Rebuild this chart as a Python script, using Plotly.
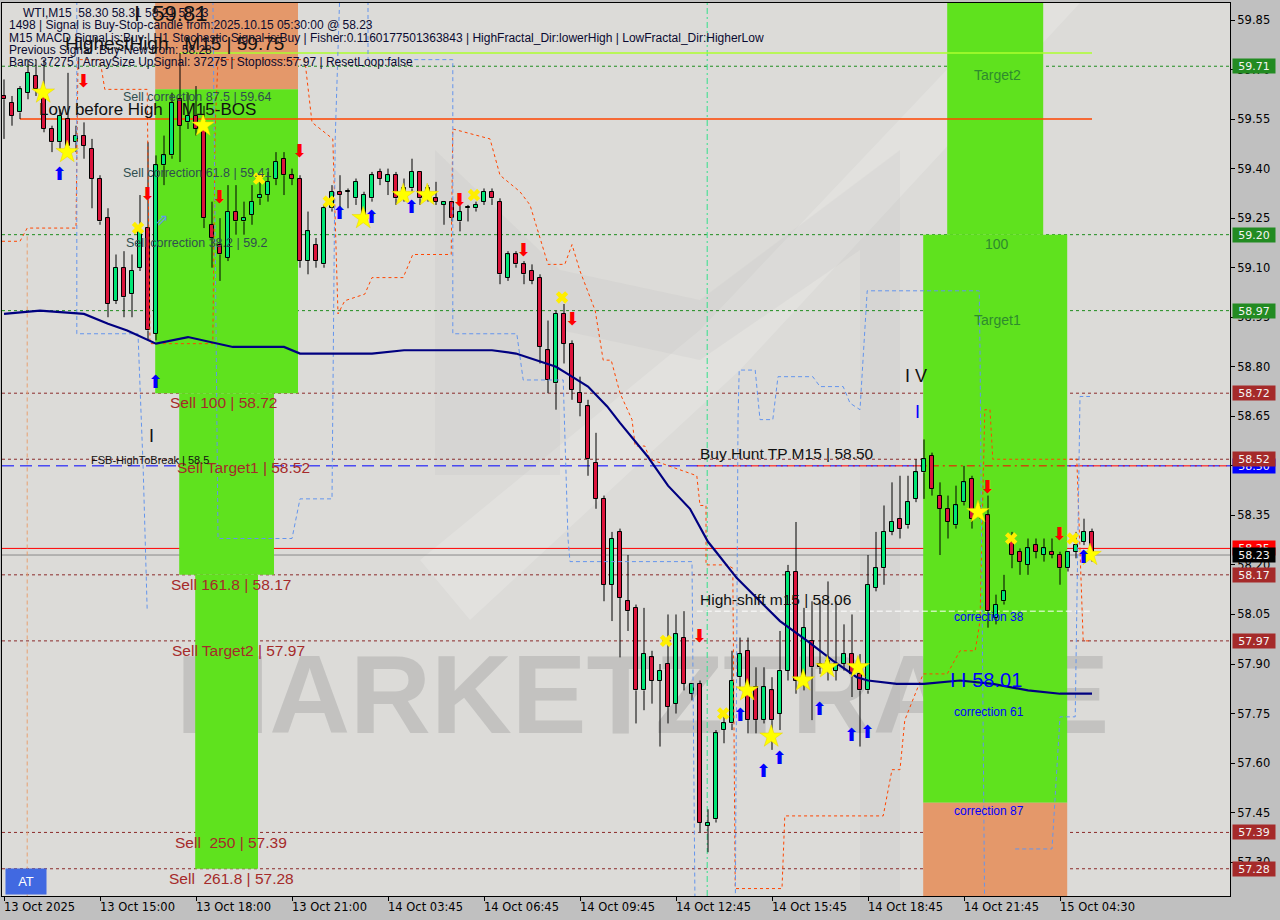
import plotly.graph_objects as go

# ---------------- DATA (M15 bars, index 0 = 13 Oct 12:00) ----------------
opens = [59.62, 59.60, 59.57, 59.63, 59.68, 59.63, 59.52, 59.48, 59.55, 59.48,
         59.50, 59.46, 59.37, 59.25, 59.00, 59.10, 59.02, 59.10, 59.22, 58.90,
         59.41, 59.44, 59.61, 59.54, 59.56, 59.54, 59.23, 59.17, 59.13, 59.27,
         59.24, 59.26, 59.31, 59.32, 59.37, 59.43, 59.38, 59.37, 59.12, 59.17,
         59.11, 59.28, 59.33, 59.33, 59.31, 59.25, 59.31, 59.39, 59.36, 59.38,
         59.32, 59.34, 59.39, 59.34, 59.31, 59.29, 59.30, 59.24, 59.28, 59.28,
         59.30, 59.33, 59.30, 59.07, 59.14, 59.11, 59.09, 59.07, 58.85, 58.75,
         58.96, 58.87, 58.72, 58.68, 58.51, 58.40, 58.14, 58.30, 58.09, 58.07,
         57.82, 57.92, 57.85, 57.90, 57.78, 57.98, 57.81, 57.84, 57.41, 57.43,
         57.70, 57.72, 57.86, 57.94, 57.83, 57.73, 57.82, 57.75, 57.88, 58.18,
         57.85, 57.97, 57.90, 57.88, 57.88, 57.90, 57.93, 57.87, 57.82, 58.13,
         58.19, 58.30, 58.34, 58.32, 58.40, 58.48, 58.53, 58.41, 58.37, 58.32,
         58.39, 58.46, 58.35, 58.35, 58.04, 58.09, 58.27, 58.24, 58.20, 58.26,
         58.23, 58.24, 58.23, 58.19, 58.24, 58.27, 58.30]
highs = [59.67, 59.62, 59.65, 59.73, 59.73, 59.73, 59.53, 59.58, 59.69, 59.53,
         59.54, 59.49, 59.38, 59.28, 59.14, 59.15, 59.14, 59.32, 59.48, 59.44,
         59.50, 59.63, 59.75, 59.63, 59.65, 59.59, 59.30, 59.25, 59.35, 59.35,
         59.30, 59.35, 59.38, 59.39, 59.45, 59.45, 59.40, 59.38, 59.27, 59.19,
         59.29, 59.35, 59.38, 59.34, 59.37, 59.33, 59.39, 59.40, 59.40, 59.39,
         59.37, 59.43, 59.39, 59.35, 59.36, 59.30, 59.30, 59.29, 59.29, 59.30,
         59.34, 59.34, 59.31, 59.15, 59.15, 59.12, 59.11, 59.08, 58.94, 58.97,
         58.99, 58.88, 58.77, 58.70, 58.60, 58.41, 58.30, 58.31, 58.23, 58.08,
         58.07, 57.94, 57.90, 58.05, 58.05, 58.06, 57.84, 57.85, 57.46, 57.70,
         57.75, 57.94, 57.98, 57.98, 57.89, 57.89, 57.86, 58.00, 58.20, 58.33,
         58.07, 58.09, 58.09, 58.15, 58.09, 58.02, 58.05, 57.93, 58.23, 58.30,
         58.38, 58.45, 58.47, 58.47, 58.52, 58.58, 58.54, 58.45, 58.41, 58.44,
         58.50, 58.47, 58.38, 58.41, 58.11, 58.17, 58.30, 58.25, 58.28, 58.28,
         58.28, 58.28, 58.24, 58.24, 58.30, 58.34, 58.31]
lows = [59.49, 59.53, 59.55, 59.61, 59.62, 59.51, 59.45, 59.46, 59.46, 59.45,
        59.43, 59.28, 59.23, 58.95, 58.99, 58.95, 58.95, 59.09, 58.88, 58.88,
        59.35, 59.43, 59.42, 59.52, 59.50, 59.22, 59.10, 59.06, 59.12, 59.20,
        59.20, 59.23, 59.29, 59.30, 59.35, 59.32, 59.35, 59.10, 59.08, 59.10,
        59.10, 59.27, 59.28, 59.28, 59.29, 59.24, 59.30, 59.35, 59.32, 59.29,
        59.30, 59.33, 59.29, 59.30, 59.29, 59.23, 59.24, 59.21, 59.24, 59.27,
        59.29, 59.29, 59.05, 59.06, 59.10, 59.05, 59.05, 58.81, 58.72, 58.67,
        58.81, 58.70, 58.65, 58.47, 58.37, 58.09, 58.03, 57.92, 58.00, 57.72,
        57.76, 57.78, 57.65, 57.72, 57.75, 57.82, 57.79, 57.39, 57.33, 57.42,
        57.66, 57.70, 57.82, 57.69, 57.69, 57.72, 57.64, 57.70, 57.85, 57.81,
        57.82, 57.73, 57.87, 57.85, 57.85, 57.88, 57.80, 57.65, 57.81, 58.12,
        58.14, 58.29, 58.28, 58.31, 58.39, 58.40, 58.41, 58.23, 58.28, 58.31,
        58.38, 58.31, 58.34, 58.01, 58.02, 58.08, 58.19, 58.17, 58.17, 58.22,
        58.21, 58.22, 58.14, 58.18, 58.22, 58.26, 58.21]
closes = [59.61, 59.56, 59.64, 59.69, 59.64, 59.52, 59.48, 59.56, 59.47, 59.50,
          59.47, 59.37, 59.24, 58.99, 59.10, 59.01, 59.09, 59.21, 58.91, 59.41,
          59.44, 59.60, 59.53, 59.56, 59.52, 59.25, 59.19, 59.14, 59.27, 59.24,
          59.25, 59.30, 59.32, 59.36, 59.42, 59.38, 59.37, 59.12, 59.21, 59.12,
          59.28, 59.33, 59.32, 59.33, 59.36, 59.32, 59.38, 59.37, 59.38, 59.31,
          59.34, 59.39, 59.31, 59.32, 59.30, 59.30, 59.25, 59.27, 59.28, 59.29,
          59.33, 59.31, 59.08, 59.14, 59.11, 59.08, 59.06, 58.86, 58.76, 58.96,
          58.87, 58.73, 58.69, 58.52, 58.40, 58.14, 58.28, 58.10, 58.06, 57.82,
          57.93, 57.85, 57.88, 57.77, 57.99, 57.84, 57.84, 57.42, 57.42, 57.69,
          57.72, 57.85, 57.93, 57.73, 57.73, 57.83, 57.73, 57.88, 58.18, 57.85,
          58.01, 57.89, 57.89, 57.91, 57.90, 57.93, 57.87, 57.82, 58.14, 58.19,
          58.30, 58.33, 58.31, 58.39, 58.48, 58.52, 58.43, 58.37, 58.33, 58.38,
          58.45, 58.34, 58.37, 58.06, 58.08, 58.12, 58.23, 58.21, 58.25, 58.24,
          58.25, 58.23, 58.19, 58.24, 58.26, 58.30, 58.23]

tick_pos = [0, 12, 24, 36, 48, 60, 72, 84, 96, 108, 120, 132]
tick_labels = ["13 Oct 2025", "13 Oct 15:00", "13 Oct 18:00", "13 Oct 21:00",
               "14 Oct 03:45", "14 Oct 06:45", "14 Oct 09:45", "14 Oct 12:45",
               "14 Oct 15:45", "14 Oct 18:45", "14 Oct 21:45", "15 Oct 04:30"]

# moving average (navy)
ma_idx = [0, 4.5, 10, 13, 15.4, 18, 19, 23, 25, 28.6, 35, 37, 41, 46, 50, 60, 61, 64,
          66.6, 69, 71, 73, 75.4, 77, 80.4, 83, 85.75, 88, 89, 91.6, 94.5, 97, 100.4,
          103.6, 106.6, 108, 111.6, 115, 119.5, 123.6, 128, 132, 136]
ma_val = [58.96, 58.97, 58.96, 58.93, 58.91, 58.88, 58.87, 58.89, 58.88, 58.86, 58.86,
          58.84, 58.84, 58.84, 58.85, 58.85, 58.85, 58.84, 58.82, 58.80, 58.77, 58.74,
          58.68, 58.63, 58.53, 58.44, 58.37, 58.27, 58.24, 58.16, 58.09, 58.03, 57.97,
          57.91, 57.86, 57.85, 57.84, 57.84, 57.85, 57.84, 57.82, 57.81, 57.81]

# orange dashed step channel
or_idx = [-0.25, 2, 2.9, 9, 9.25, 12, 12.6, 17.9, 18.25, 26.1, 26.4, 26.75, 37.6, 38.5,
          41.1, 41.75, 42.6, 45.1, 46, 49.9, 51.1, 55.9, 56.1, 60.75, 62, 64.5, 65.75,
          68, 70.1, 71, 72, 73.9, 74.9, 75.9, 77, 78.5, 78.9, 80.1, 80.75, 86.6, 87,
          87.75, 87.75, 90.4, 91.1, 91.4, 97.25, 97.6, 109.9, 111, 112, 112.6, 114.9,
          117.9, 119.5, 121.4, 122, 122.6, 123.25, 123.6, 134.1, 134.5, 134.9, 135.75]
or_val = [59.18, 59.18, 59.22, 59.22, 59.73, 59.73, 59.64, 59.64, 58.87, 58.87, 59.53,
          59.73, 59.73, 59.54, 59.49, 58.96, 59.00, 59.02, 59.07, 59.07, 59.14, 59.14,
          59.52, 59.49, 59.38, 59.33, 59.29, 59.11, 59.11, 59.17, 59.09, 58.97, 58.82,
          58.82, 58.72, 58.64, 58.56, 58.56, 58.52, 58.47, 58.38, 58.38, 58.20, 58.20,
          58.19, 57.22, 57.22, 57.44, 57.44, 57.58, 57.58, 57.73, 57.87, 57.87, 57.94,
          57.94, 58.03, 58.67, 58.67, 58.52, 58.52, 58.27, 57.97, 57.97]

# blue dashed step lines (None = break)
bl_idx = [9.1, 9.1, 16.75, 17, 17.4, 17.9, None,
          26.1, 26.75, 36, 37, 41, 41.4, 42, None,
          45.5, 45.5, 56.1, 56.1, 64.1, 64.9, 69.9, 70.5, 70.75, 86, 86.4, None,
          91.4, 91.75, 91.9, 93.9, 94.5, 96.1, 96.75, 101.1, 102, 104.9, 105.75, 107,
          107.9, 121.9, 122, 122.6, None,
          126.4, 131, 132, 133.9, 134.5, 135.75]
bl_val = [59.95, 58.90, 58.90, 58.76, 58.49, 58.06, None,
          59.95, 58.28, 58.28, 58.40, 58.40, 59.49, 59.95, None,
          59.95, 59.73, 59.73, 58.90, 58.90, 58.76, 58.76, 58.28, 58.21, 58.21, 57.10, None,
          57.10, 58.64, 58.79, 58.79, 58.64, 58.64, 58.77, 58.77, 58.74, 58.74, 58.69, 58.67,
          59.03, 59.03, 58.85, 57.10, None,
          57.34, 57.34, 57.74, 57.74, 58.71, 58.71]

star_idx = [4.9, 7.9, 24.9, 44.9, 49.9, 52.9, 92.9, 95.9, 99.9, 102.9, 106.75, 121.75, 135.75]
star_val = [59.63, 59.45, 59.53, 59.25, 59.32, 59.32, 57.82, 57.68, 57.85, 57.89, 57.89, 58.36, 58.23]
cross_idx = [16.75, 31.9, 40.6, 58.75, 69.75, 82.75, 89.9, 125.9, 133.6]
cross_val = [59.22, 59.37, 59.30, 59.32, 59.01, 57.97, 57.75, 58.28, 58.28]
up_idx = [6.9, 18.9, 41.9, 45.9, 50.9, 92, 94.9, 96.9, 101.9, 105.9, 107.9, 134.9]
up_val = [59.38, 58.75, 59.26, 59.25, 59.28, 57.74, 57.57, 57.61, 57.76, 57.68, 57.69, 58.22]
down_idx = [9.9, 17.9, 26.9, 36.9, 56.9, 64.9, 71, 86.9, 122.9, 131.9]
down_val = [59.66, 59.32, 59.31, 59.45, 59.30, 59.15, 58.94, 57.98, 58.43, 58.29]

green_levels = [59.71, 59.20, 58.97]
brown_levels = [58.72, 58.52, 58.17, 57.97, 57.39, 57.28]
hunt_level = 58.50
red_level = 58.25
bid_level = 58.23
bos_level = 59.55
highest_high = 59.75
high_shift = 58.06

# ---------------- FIGURE ----------------
W, H = 1280, 920
L, R, T, B = 2, 50, 3, 24
PW, PH = W - L - R, H - T - B
XR = [-0.25, 153.25]
YR = [57.1975, 59.9015]


def pxx(x):
    return (x - L) / PW


def pxy(y):
    return (H - B - y) / PH


fig = go.Figure()

# wicks (above/below bodies only)
wx, wy = [], []
for i, (o, h, l, c) in enumerate(zip(opens, highs, lows, closes)):
    top, bot = max(o, c), min(o, c)
    wx += [i, i, None, i, i, None]
    wy += [h, top, None, bot, l, None]
fig.add_trace(go.Scatter(x=wx, y=wy, mode="lines", line=dict(color="black", width=1),
                         hoverinfo="skip", showlegend=False))

up_x = [i for i in range(len(opens)) if closes[i] >= opens[i]]
dn_x = [i for i in range(len(opens)) if closes[i] < opens[i]]
fig.add_trace(go.Bar(x=up_x, base=[opens[i] for i in up_x],
                     y=[max(closes[i] - opens[i], 0.003) for i in up_x], width=0.6,
                     marker=dict(color="#00E676", line=dict(color="black", width=1)),
                     showlegend=False, hoverinfo="skip"))
fig.add_trace(go.Bar(x=dn_x, base=[closes[i] for i in dn_x],
                     y=[max(opens[i] - closes[i], 0.003) for i in dn_x], width=0.6,
                     marker=dict(color="#DC143C", line=dict(color="black", width=1)),
                     showlegend=False, hoverinfo="skip"))

# indicator lines
fig.add_trace(go.Scatter(x=or_idx, y=or_val, mode="lines",
                         line=dict(color="#FF4500", width=1, dash="3px,3px"),
                         hoverinfo="skip", showlegend=False))
fig.add_trace(go.Scatter(x=bl_idx, y=bl_val, mode="lines", connectgaps=False,
                         line=dict(color="#6495ED", width=1, dash="4px,3px"),
                         hoverinfo="skip", showlegend=False))
fig.add_trace(go.Scatter(x=ma_idx, y=ma_val, mode="lines", line=dict(color="#000080", width=2.2),
                         hoverinfo="skip", showlegend=False))

# signal markers
fig.add_trace(go.Scatter(x=star_idx, y=star_val, mode="markers",
                         marker=dict(symbol="star", size=17, color="#FFFF00",
                                     line=dict(color="#E8D000", width=0.5)),
                         hoverinfo="skip", showlegend=False))
fig.add_trace(go.Scatter(x=cross_idx, y=cross_val, mode="markers",
                         marker=dict(symbol="x", size=11, color="#FFEE00", line=dict(width=0)),
                         hoverinfo="skip", showlegend=False))
fig.add_trace(go.Scatter(x=up_idx, y=up_val, mode="text", text=["⬆"] * len(up_idx),
                         textfont=dict(color="#0000FF", size=18, family="DejaVu Sans"),
                         hoverinfo="skip", showlegend=False))
fig.add_trace(go.Scatter(x=down_idx, y=down_val, mode="text", text=["⬇"] * len(down_idx),
                         textfont=dict(color="#FF0000", size=18, family="DejaVu Sans"),
                         hoverinfo="skip", showlegend=False))
fig.add_trace(go.Scatter(x=[19.75], y=[59.24], mode="text", text=["⇗"],
                         textfont=dict(color="#6495ED", size=16, family="DejaVu Sans"),
                         hoverinfo="skip", showlegend=False))

shapes = []
GREEN = "#5FE21E"
ORANGE = "#E4986A"
# faint background logo pieces
LOGO = "rgba(255,255,255,0.17)"
LOGO2 = "rgba(175,175,175,0.13)"
shapes.append(dict(type="path", xref="paper", yref="paper", layer="below", line=dict(width=0),
                   fillcolor=LOGO,
                   path=f"M {pxx(420)},{pxy(560)} L {pxx(700)},{pxy(330)} L {pxx(1010)},{pxy(3)} "
                        f"L {pxx(1080)},{pxy(3)} L {pxx(740)},{pxy(370)} L {pxx(470)},{pxy(620)} Z"))
shapes.append(dict(type="path", xref="paper", yref="paper", layer="below", line=dict(width=0),
                   fillcolor=LOGO2,
                   path=f"M {pxx(435)},{pxy(150)} L {pxx(560)},{pxy(270)} L {pxx(700)},{pxy(300)} "
                        f"L {pxx(900)},{pxy(150)} L {pxx(900)},{pxy(1000)} L {pxx(860)},{pxy(1000)} "
                        f"L {pxx(860)},{pxy(250)} L {pxx(700)},{pxy(360)} L {pxx(560)},{pxy(330)} "
                        f"L {pxx(560)},{pxy(475)} L {pxx(435)},{pxy(475)} Z"))
# zones
shapes.append(dict(type="rect", xref="x", yref="y", x0=18.9, x1=36.75, y0=59.64, y1=60.2,
                   fillcolor=ORANGE, line=dict(width=0), layer="below"))
shapes.append(dict(type="rect", xref="x", yref="y", x0=18.9, x1=36.75, y0=58.72, y1=59.64,
                   fillcolor=GREEN, line=dict(width=0), layer="below"))
shapes.append(dict(type="rect", xref="x", yref="y", x0=21.9, x1=33.75, y0=58.17, y1=58.72,
                   fillcolor=GREEN, line=dict(width=0), layer="below"))
shapes.append(dict(type="rect", xref="x", yref="y", x0=23.9, x1=31.75, y0=57.28, y1=58.17,
                   fillcolor=GREEN, line=dict(width=0), layer="below"))
shapes.append(dict(type="rect", xref="x", yref="y", x0=117.9, x1=129.9, y0=59.20, y1=60.2,
                   fillcolor=GREEN, line=dict(width=0), layer="below"))
shapes.append(dict(type="rect", xref="x", yref="y", x0=114.9, x1=132.9, y0=57.48, y1=59.20,
                   fillcolor=GREEN, line=dict(width=0), layer="below"))
shapes.append(dict(type="rect", xref="x", yref="y", x0=114.9, x1=132.9, y0=57.0, y1=57.48,
                   fillcolor=ORANGE, line=dict(width=0), layer="below"))
# watermark
shapes.append(dict(type="rect", xref="paper", yref="paper", x0=pxx(175), x1=pxx(1110),
                   y0=pxy(733), y1=pxy(633), line=dict(width=0), fillcolor="rgba(0,0,0,0)",
                   layer="below",
                   label=dict(text="<b>MARKETZTRADE</b>", textposition="middle center",
                              font=dict(size=112, color="rgba(160,160,160,0.42)",
                                        family="Liberation Sans"))))
# horizontal levels
for lv in green_levels:
    shapes.append(dict(type="line", xref="paper", yref="y", x0=0, x1=1, y0=lv, y1=lv,
                       line=dict(color="#1E8C1E", width=1, dash="3px,3px"), layer="below"))
for lv in brown_levels:
    shapes.append(dict(type="line", xref="paper", yref="y", x0=0, x1=1, y0=lv, y1=lv,
                       line=dict(color="#8B2A2A", width=1, dash="3px,3px"), layer="below"))
shapes.append(dict(type="line", xref="paper", yref="y", x0=0, x1=1, y0=hunt_level, y1=hunt_level,
                   line=dict(color="#0000FF", width=1, dash="12px,6px"), layer="below"))
shapes.append(dict(type="line", xref="x", yref="y", x0=86.6, x1=XR[1], y0=hunt_level, y1=hunt_level,
                   line=dict(color="#FF0000", width=1, dash="8px,4px,2px,4px"), layer="below"))
shapes.append(dict(type="line", xref="paper", yref="y", x0=0, x1=1, y0=red_level, y1=red_level,
                   line=dict(color="#FF0000", width=1), layer="below"))
shapes.append(dict(type="line", xref="paper", yref="y", x0=0, x1=1, y0=bid_level, y1=bid_level,
                   line=dict(color="#8A8A8A", width=1), layer="below"))
shapes.append(dict(type="line", xref="x", yref="y", x0=2, x1=136, y0=bos_level, y1=bos_level,
                   line=dict(color="#FF4500", width=1.5), layer="below"))
shapes.append(dict(type="line", xref="x", yref="y", x0=22, x1=136, y0=highest_high, y1=highest_high,
                   line=dict(color="#ADFF2F", width=1.5), layer="below"))
shapes.append(dict(type="line", xref="x", yref="y", x0=86.6, x1=136, y0=high_shift, y1=high_shift,
                   line=dict(color="#FFFFFF", width=1, dash="6px,3px"), layer="below"))
# vertical separators
shapes.append(dict(type="line", xref="x", yref="paper", x0=87.9, x1=87.9, y0=0, y1=1,
                   line=dict(color="#33E08A", width=1, dash="6px,3px,2px,3px"), layer="below"))
shapes.append(dict(type="line", xref="x", yref="y", x0=2.9, x1=2.9, y0=57.19, y1=59.20,
                   line=dict(color="#E8A070", width=1, dash="4px,3px"), layer="below"))

ann = []
HDR = "#0A0A30"
header = [
    ("WTI,M15  58.30 58.31 58.21 58.23", 21, 13),
    ("1498 | Signal is Buy-Stop-candle from:2025.10.15 05:30:00 @ 58.23", 7, 25),
    ("M15 MACD Signal is:Buy | H1 Stochastic Signal is:Buy | Fisher:0.1160177501363843 | "
     "HighFractal_Dir:lowerHigh | LowFractal_Dir:HigherLow", 7, 38),
    ("Previous Signal :Buy-New from: 58.28", 7, 50),
    ("Bars: 37275 | ArraySize UpSignal: 37275 | Stoploss:57.97 | ResetLoop:false", 7, 62),
]
for t, x, y in header:
    ann.append(dict(text=t, x=pxx(x), y=pxy(y), xref="paper", yref="paper", xanchor="left",
                    yanchor="middle", showarrow=False,
                    font=dict(size=12, color=HDR, family="Liberation Sans")))


def label(t, x, y, size, color, family="Liberation Sans", anchor="left"):
    ann.append(dict(text=t, x=pxx(x), y=pxy(y), xref="paper", yref="paper", xanchor=anchor,
                    yanchor="middle", showarrow=False,
                    font=dict(size=size, color=color, family=family)))


label("I  59.81", 132, 14, 22, "#111111")
label("HighestHigh   M15 | 59.75", 63, 43, 19, "#111111")
label("Low before High    M15-BOS", 37, 110, 17, "#111111")
SLATE = "#2F4F4F"
label("Sell correction 87.5 | 59.64", 121, 97, 12.5, SLATE)
label("Sell correction 61.8 | 59.41", 121, 173, 12.5, SLATE)
label("Sell correction 38.2 | 59.2", 124, 243, 12.5, SLATE)
BR = "#A52A2A"
label("Sell 100 | 58.72", 168, 402, 15.5, BR)
label("Sell Target1 | 58.52", 175, 468, 15.5, BR)
label("Sell 161.8 | 58.17", 169, 584, 15.5, BR)
label("Sell Target2 | 57.97", 170, 650, 15.5, BR)
label("Sell  250 | 57.39", 173, 842, 15.5, BR)
label("Sell  261.8 | 57.28", 167, 878, 15.5, BR)
label("FSB-HighToBreak | 58.5", 89, 460, 11, "#111111")
label("I", 147, 436, 18, "#111111")
label("I V", 903, 376, 18, "#111111")
label("I", 913, 412, 18, "#0000FF")
label("Buy Hunt TP M15 | 58.50", 698, 454, 15.5, "#111111")
label("High-shift m15 | 58.06", 698, 599, 15.5, "#111111")
label("I I 58.01", 948, 680, 20, "#0000FF")
label("correction 38", 952, 617, 12, "#0000FF")
label("correction 61", 952, 712, 12, "#0000FF")
label("correction 87", 952, 811, 12, "#0000FF")
DG = "#2E8B2E"
label("Target2", 997, 75, 14, DG, anchor="center")
label("100", 997, 244, 14, DG, anchor="center")
label("Target1", 997, 320, 14, DG, anchor="center")

# AT box
ann.append(dict(text="AT", x=pxx(5), y=pxy(895), xref="paper", yref="paper", xanchor="left",
                yanchor="bottom", showarrow=False, bgcolor="#4169E1", width=38, height=23,
                font=dict(size=13, color="white", family="Liberation Sans")))

# x tick labels (left aligned at tick, MT4 style)
for p, t in zip(tick_pos, tick_labels):
    ann.append(dict(text=t, x=p, y=pxy(907), xref="x", yref="paper", xanchor="left",
                    yanchor="middle", xshift=-2, showarrow=False,
                    font=dict(size=11.5, color="black", family="DejaVu Sans")))

# right axis price boxes
boxes = [(59.71, "#228B22"), (59.20, "#228B22"), (58.97, "#228B22"), (58.72, BR),
         (58.50, "#0000FF"), (58.52, BR), (58.25, "#FF0000"), (58.23, "#000000"),
         (58.17, BR), (57.97, BR), (57.39, BR), (57.28, BR)]
for v, col in boxes:
    ann.append(dict(text=f"{v:.2f}", x=pxx(1232), y=v, xref="paper", yref="y", xanchor="left",
                    yanchor="middle", showarrow=False, bgcolor=col, width=42, height=14,
                    borderpad=0,
                    font=dict(size=11, color="#F4F4F4", family="DejaVu Sans")))

fig.update_layout(
    width=W, height=H, margin=dict(l=L, r=R, t=T, b=B, autoexpand=False),
    paper_bgcolor="#C0C0C0", plot_bgcolor="#DCDBD8",
    barmode="overlay", bargap=0, showlegend=False,
    shapes=shapes, annotations=ann,
    xaxis=dict(range=XR, showgrid=False, zeroline=False, tickvals=tick_pos, ticktext=[""] * len(tick_pos),
               ticks="outside", ticklen=4, tickcolor="black", showline=True, linecolor="black",
               linewidth=1, mirror=True, automargin=False),
    yaxis=dict(range=YR, side="right", showgrid=False, zeroline=False, tick0=57.30, dtick=0.15,
               tickformat=".2f", ticks="outside", ticklen=4, tickcolor="black", showline=True,
               linecolor="black", linewidth=1, mirror=True, automargin=False,
               tickfont=dict(size=11.5, color="black", family="DejaVu Sans")),
)

fig.write_html("out.html", config={"displayModeBar": False},
               post_script="document.body.style.margin='0px';document.body.style.overflow='hidden';")
